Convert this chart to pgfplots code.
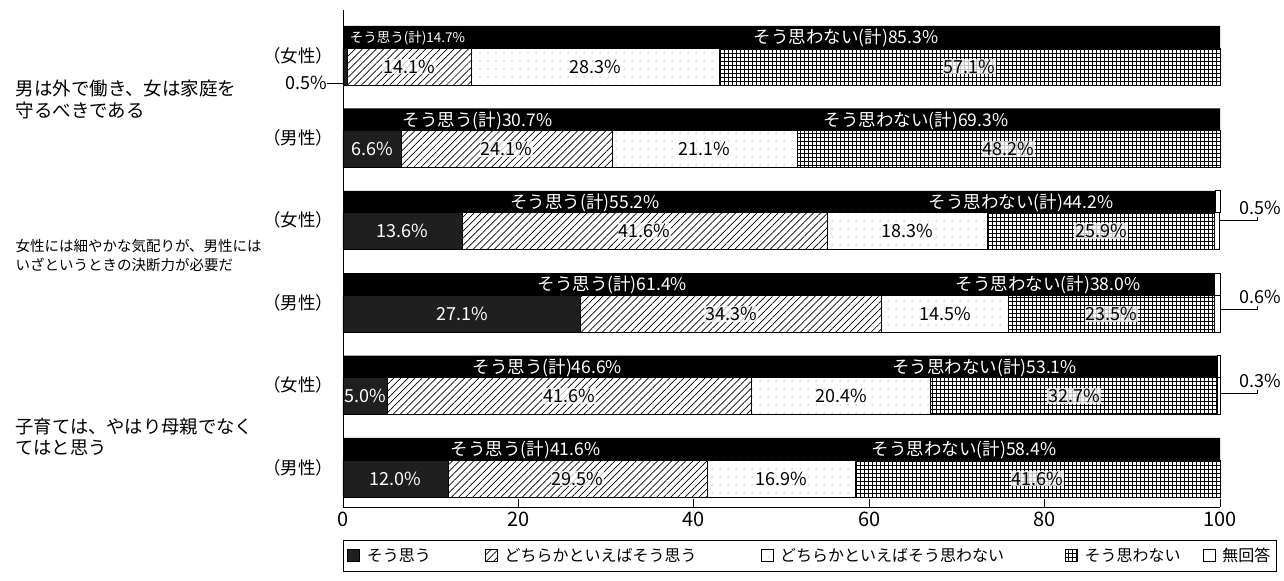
\documentclass[border=0pt]{standalone}
\usepackage{fontspec}
\setmainfont{Noto Sans CJK JP}
\usepackage{pgfplots}
\pgfplotsset{compat=1.18}
\usetikzlibrary{patterns.meta}
\newcommand{\fs}[2]{\fontsize{#1bp}{#2bp}\selectfont}

\pgfplotsset{
  base/.style={scale only axis, width=877bp, height=497bp,
    xmin=0, xmax=100, ymin=0, ymax=497, at={(0bp,0bp)}, anchor=south west, clip=false},
  s1/.style={fill=black!88, draw=black, line width=0.6bp},
  s2/.style={draw=black, line width=0.6bp, pattern={Lines[angle=45,distance=5bp,line width=0.7bp]}},
  s3/.style={draw=black, line width=0.6bp, pattern={Dots[distance=8bp,radius=0.5bp]}, pattern color=black!60},
  s4/.style={draw=black, line width=0.6bp, pattern={Hatch[distance=4bp,line width=0.8bp]}},
  s5/.style={draw=black, fill=white, line width=0.6bp},
  lab/.style={only marks, mark=*, mark size=0pt, mark options={draw=none,fill=none},
    point meta=explicit,
    every node near coord/.append style={anchor=center, inner sep=0pt}},
}

\begin{document}
\begin{tikzpicture}
% header bands
\begin{axis}[base, hide axis, xbar stacked, bar width=22]
\addplot[fill=black, draw=none] coordinates {(100,470) (100,387.6) (99.5,305.2) (99.4,222.8) (99.7,140.4) (100,58)};
\addplot[fill=white, draw=black, line width=0.6bp] coordinates {(0,470) (0,387.6) (0.5,305.2) (0.6,222.8) (0.3,140.4) (0,58)};
\end{axis}
% bodies
\begin{axis}[base, xbar stacked, bar width=37,
  axis x line*=bottom, axis y line*=left, axis line style={line width=0.8bp, -},
  ytick=\empty, xtick={0,20,40,60,80,100}, tick align=inside, major tick length=8bp,
  xtick pos=bottom,
  tick style={line width=0.8bp, black},
  xticklabel style={font=\fs{20}{20}, yshift=-1bp},
  /pgf/number format/assume math mode=true,
  legend columns=5, legend cell align=left,
  legend image code/.code={\draw[#1] (0bp,-6bp) rectangle (12bp,6bp); \path (17bp,0bp);},
  legend style={at={(0,-0.066)}, anchor=north west, draw=black, line width=0.8bp,
    font=\fs{16}{16}, inner xsep=4bp, inner ysep=6bp,
    /tikz/every even column/.style={column sep=0bp},
    /tikz/every odd column/.style={column sep=0bp}},
]
\addplot[s1] coordinates {(0.5,440.5) (6.6,358.1) (13.6,275.7) (27.1,193.3) (5.0,110.9) (12.0,28.5)};
\addlegendentry{\makebox[116bp][l]{そう思う}}
\addplot[s2] coordinates {(14.1,440.5) (24.1,358.1) (41.6,275.7) (34.3,193.3) (41.6,110.9) (29.5,28.5)};
\addlegendentry{\makebox[254bp][l]{どちらかといえばそう思う}}
\addplot[s3] coordinates {(28.3,440.5) (21.1,358.1) (18.3,275.7) (14.5,193.3) (20.4,110.9) (16.9,28.5)};
\addlegendentry{\makebox[283bp][l]{どちらかといえばそう思わない}}
\addplot[s4] coordinates {(57.1,440.5) (48.2,358.1) (25.9,275.7) (23.5,193.3) (32.7,110.9) (41.6,28.5)};
\addlegendentry{\makebox[116bp][l]{そう思わない}}
\addplot[s5] coordinates {(0,440.5) (0,358.1) (0.5,275.7) (0.6,193.3) (0.3,110.9) (0,28.5)};
\addlegendentry{無回答}
\end{axis}
% labels
\begin{axis}[base, hide axis, /pgf/number format/assume math mode=true]
\addplot[lab, nodes near coords={\pgfmathprintnumber[fixed,fixed zerofill,precision=1]{\pgfplotspointmeta}\%},
  every node near coord/.append style={font=\fs{18}{18}, text=black, fill=white, fill opacity=0.75, text opacity=1, inner sep=1bp}]
  table[meta=m] {
x y m
7.55 440.5 14.1
71.45 440.5 57.1
18.65 358.1 24.1
75.9 358.1 48.2
34.4 275.7 41.6
86.45 275.7 25.9
44.25 193.3 34.3
87.65 193.3 23.5
25.8 110.9 41.6
83.35 110.9 32.7
26.75 28.5 29.5
79.2 28.5 41.6
};
\addplot[lab, nodes near coords={\pgfmathprintnumber[fixed,fixed zerofill,precision=1]{\pgfplotspointmeta}\%},
  every node near coord/.append style={font=\fs{18}{18}, text=black}]
  table[meta=m] {
x y m
28.75 440.5 28.3
41.25 358.1 21.1
64.35 275.7 18.3
68.65 193.3 14.5
56.8 110.9 20.4
49.95 28.5 16.9
};
\addplot[lab, nodes near coords={\pgfmathprintnumber[fixed,fixed zerofill,precision=1]{\pgfplotspointmeta}\%},
  every node near coord/.append style={font=\fs{18}{18}, text=white}]
  table[meta=m] {
x y m
3.3 358.1 6.6
6.8 275.7 13.6
13.55 193.3 27.1
2.5 110.9 5.0
6.0 28.5 12.0
};
\addplot[lab, nodes near coords={そう思う(計)\pgfmathprintnumber[fixed,fixed zerofill,precision=1]{\pgfplotspointmeta}\%},
  every node near coord/.append style={font=\fs{13.5}{13.5}, text=white}]
  table[meta=m] {
x y m
7.35 469 14.7
};
\addplot[lab, nodes near coords={そう思う(計)\pgfmathprintnumber[fixed,fixed zerofill,precision=1]{\pgfplotspointmeta}\%},
  every node near coord/.append style={font=\fs{17.5}{17.5}, text=white}]
  table[meta=m] {
x y m
15.35 386.6 30.7
27.6 304.2 55.2
30.7 221.8 61.4
23.3 139.4 46.6
20.8 57 41.6
};
\addplot[lab, nodes near coords={そう思わない(計)\pgfmathprintnumber[fixed,fixed zerofill,precision=1]{\pgfplotspointmeta}\%},
  every node near coord/.append style={font=\fs{17.5}{17.5}, text=white}]
  table[meta=m] {
x y m
57.35 469 85.3
65.35 386.6 69.3
77.3 304.2 44.2
80.4 221.8 38.0
73.15 139.4 53.1
70.8 57 58.4
};
% no-answer callouts
\addplot[lab, nodes near coords={\pgfmathprintnumber[fixed,fixed zerofill,precision=1]{\pgfplotspointmeta}\%},
  every node near coord/.append style={font=\fs{18}{18}, text=black}]
  table[meta=m] {
x y m
104.6 299 0.5
104.6 210 0.6
104.6 126 0.3
};
\draw[line width=0.7bp] (axis cs:100,287) -- (axis cs:104.3,287) -- (axis cs:104.3,290);
\draw[line width=0.7bp] (axis cs:100,198) -- (axis cs:104.3,198) -- (axis cs:104.3,201);
\draw[line width=0.7bp] (axis cs:100,114) -- (axis cs:104.3,114) -- (axis cs:104.3,117);
\addplot[lab, nodes near coords={\pgfmathprintnumber[fixed,fixed zerofill,precision=1]{\pgfplotspointmeta}\%},
  every node near coord/.append style={font=\fs{18}{18}, text=black, anchor=east}]
  table[meta=m] {
x y m
-1.8 424 0.5
};
\draw[line width=0.7bp] (axis cs:-1.8,424) -- (axis cs:0,424);
\end{axis}
% left labels
\node[anchor=west, align=left, font=\fs{18.5}{22}] at (-331bp,408bp) {男は外で働き、女は家庭を\\守るべきである};
\node[anchor=west, align=left, font=\fs{14.5}{19}] at (-331bp,251bp) {女性には細やかな気配りが、男性には\\いざというときの決断力が必要だ};
\node[anchor=west, align=left, font=\fs{18.3}{21}] at (-331bp,70bp) {子育ては、やはり母親でなく\\てはと思う};
\foreach \yy/\tt in {451.5/（女性）,369/（男性）,286.7/（女性）,204.3/（男性）,121.9/（女性）,39.5/（男性）}
  \node[anchor=east, font=\fs{17.5}{17.5}] at (-6bp,\yy bp) {\tt};
\path (-343bp,-74bp) rectangle (941bp,507bp);
\end{tikzpicture}
\end{document}
